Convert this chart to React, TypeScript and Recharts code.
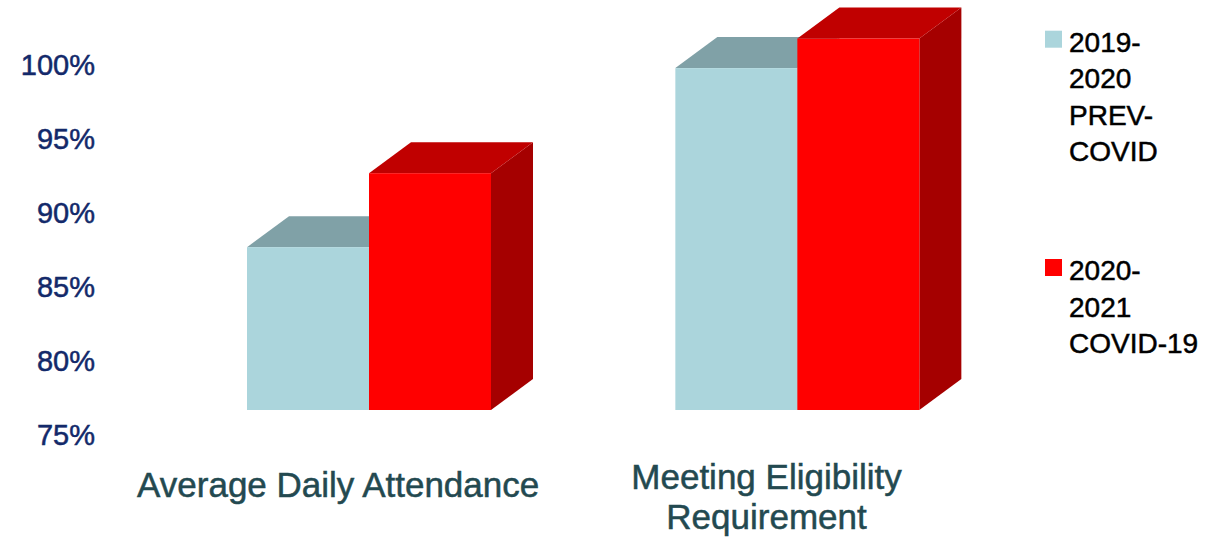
import React from 'react';
import { BarChart, Bar, XAxis, YAxis, Legend } from 'recharts';

const categories = ['Average Daily Attendance', 'Meeting Eligibility Requirement'];
const categoryLines = [['Average Daily Attendance'], ['Meeting Eligibility', 'Requirement']];
const prevCovid = [86, 98.1];
const covid19 = [91, 100.1];
const yTicks = [75, 80, 85, 90, 95, 100];

const seriesNames = ['2019-2020 PREV-COVID', '2020-2021 COVID-19'];
const legendLines = [['2019-', '2020', 'PREV-', 'COVID'], ['2020-', '2021', 'COVID-19']];

const data = categories.map((name, i) => ({ name, prev: prevCovid[i], covid: covid19[i] }));

const FONT = "'Liberation Sans', Arial, sans-serif";

// fake 3d look
const LIFT = 25;
const DX = 42;
const DY = 31;

const faces = {
  prev: { front: '#abd5dc', top: '#80a1a7', side: '#8fb3b9' },
  covid: { front: '#ff0000', top: '#c00000', side: '#a50000' },
};

const makeBox = (c: { front: string; top: string; side: string }) => (props: any) => {
  const { x, y, width: w, height: h } = props;
  const fy = y - LIFT;
  return (
    <g>
      <polygon
        points={`${x + w},${fy} ${x + w + DX},${fy - DY} ${x + w + DX},${fy + h - DY} ${x + w},${fy + h}`}
        fill={c.side}
      />
      <polygon
        points={`${x},${fy} ${x + DX},${fy - DY} ${x + w + DX},${fy - DY} ${x + w},${fy}`}
        fill={c.top}
      />
      <rect x={x} y={fy} width={w} height={h} fill={c.front} />
    </g>
  );
};

const CategoryTick = (props: any) => {
  const { x, y, index } = props;
  const lines = categoryLines[index] || [];
  const first = lines.length > 1 ? 54 : 62;
  return (
    <text
      x={x - 31}
      y={y}
      textAnchor="middle"
      fill="#234950"
      stroke="#234950"
      strokeWidth={0.5}
      fontSize={35}
      fontFamily={FONT}
    >
      {lines.map((l, i) => (
        <tspan key={i} x={x - 31} y={y + first + i * 40}>
          {l}
        </tspan>
      ))}
    </text>
  );
};

const LegendBox = () => (
  <svg width={180} height={380} style={{ display: 'block' }}>
    {seriesNames.map((s, i) => {
      const c = i === 0 ? faces.prev.front : faces.covid.front;
      const base = 51.7 + i * 228.3;
      return (
        <g key={s}>
          <rect x={5} y={base - 21} width={17} height={17} fill={c} />
          <text fontSize={28} fill="#000" stroke="#000" strokeWidth={0.5} fontFamily={FONT}>
            {legendLines[i].map((l, j) => (
              <tspan key={j} x={29} y={base + j * 36.5}>
                {l}
              </tspan>
            ))}
          </text>
        </g>
      );
    })}
  </svg>
);

export default function App() {
  return (
    <div style={{ position: 'absolute', left: 0, top: 0, width: 1225, height: 543, background: '#fff' }}>
      <BarChart
        width={1225}
        height={543}
        data={data}
        margin={{ top: 35.4, right: 213.3, bottom: 0, left: 0 }}
        barGap={0}
      >
        <XAxis
          dataKey="name"
          height={108}
          axisLine={false}
          tickLine={false}
          tickSize={0}
          tickMargin={0}
          interval={0}
          tick={<CategoryTick />}
        />
        <YAxis
          width={155}
          domain={[75, 102]}
          ticks={yTicks}
          axisLine={false}
          tickLine={false}
          tickSize={0}
          tickMargin={60}
          tickFormatter={(v: number) => `${v}%`}
          tick={{ fill: '#13296a', stroke: '#13296a', strokeWidth: 0.5, fontSize: 29, fontFamily: FONT }}
        />
        <Legend
          layout="horizontal"
          verticalAlign="middle"
          align="center"
          wrapperStyle={{ position: 'absolute', left: 1040, top: 0, width: 180 }}
          content={() => <LegendBox />}
        />
        <Bar dataKey="prev" name={seriesNames[0]} barSize={122} fill={faces.prev.front} shape={makeBox(faces.prev)} isAnimationActive={false} />
        <Bar dataKey="covid" name={seriesNames[1]} barSize={122} fill={faces.covid.front} shape={makeBox(faces.covid)} isAnimationActive={false} />
      </BarChart>
    </div>
  );
}
